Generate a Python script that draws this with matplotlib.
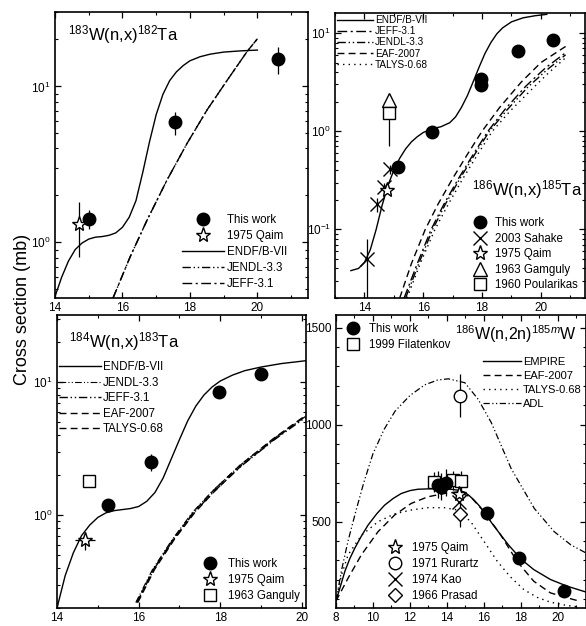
import matplotlib
matplotlib.use("Agg")
import matplotlib.pyplot as plt
from matplotlib.ticker import MultipleLocator, LogLocator, NullFormatter
from matplotlib.lines import Line2D

plt.rcParams['font.family'] = ['Liberation Sans', 'DejaVu Sans']
plt.rcParams['mathtext.fontset'] = 'custom'
plt.rcParams['mathtext.rm'] = 'Liberation Sans'
plt.rcParams['mathtext.it'] = 'Liberation Sans:italic'
plt.rcParams['mathtext.bf'] = 'Liberation Sans:bold'

# ---------------- Panel 1: 183W(n,x)182Ta ----------------
p1_work_x = [15.0, 17.55, 20.6]
p1_work_y = [1.41, 5.9, 15.0]
p1_work_err = [0.2, 1.0, 3.0]
p1_qaim_x = [14.72]
p1_qaim_y = [1.31]
p1_qaim_err = [0.5]
p1_endf_x = [14.0, 14.2, 14.4, 14.6, 14.8, 15.0, 15.2, 15.4, 15.6, 15.8, 16.0, 16.2, 16.4, 16.6, 16.8, 17.0,
             17.2, 17.4, 17.6, 17.8, 18.0, 18.3, 18.6, 19.0, 19.5, 20.0]
p1_endf_y = [0.45, 0.6, 0.76, 0.9, 0.99, 1.05, 1.08, 1.09, 1.11, 1.15, 1.25, 1.45, 1.85, 2.8, 4.4, 6.6,
             8.9, 10.9, 12.4, 13.6, 14.6, 15.5, 16.1, 16.6, 16.9, 17.1]
p1_jendl_x = [15.72, 16.23, 16.73, 17.32, 17.92, 18.51, 19.11, 19.7, 20.0]
p1_jendl_y = [0.44, 0.81, 1.39, 2.51, 4.33, 7.08, 11.0, 16.8, 20.2]
p1_jeff_x = [15.72, 16.23, 16.73, 17.32, 17.92, 18.51, 19.11, 19.7, 20.0]
p1_jeff_y = [0.44, 0.81, 1.39, 2.51, 4.33, 7.08, 11.0, 16.8, 20.2]

# ---------------- Panel 2: 186W(n,x)185Ta ----------------
p2_work_x = [15.14, 16.29, 17.95, 17.98, 19.23, 20.4]
p2_work_y = [0.43, 0.99, 3.4, 2.95, 6.5, 8.5]
p2_sahake_x = [14.09, 14.43, 14.68, 14.88]
p2_sahake_y = [0.05, 0.18, 0.27, 0.41]
p2_sahake_err = [0.03, 0.03, 0.03, 0.04]
p2_qaim_x = [14.77]
p2_qaim_y = [0.25]
p2_gamguly_x = [14.84]
p2_gamguly_y = [2.1]
p2_poul_x = [14.84]
p2_poul_y = [1.54]
p2_poul_err = [0.84]
p2_endf_x = [13.54, 13.8, 14.0, 14.2, 14.4, 14.6, 14.8, 15.0, 15.2, 15.4, 15.6, 15.8, 16.0, 16.3, 16.6, 16.9,
             17.1, 17.3, 17.5, 17.7, 17.9, 18.1, 18.3, 18.5, 18.7, 19.0, 19.4, 19.8, 20.2]
p2_endf_y = [0.038, 0.04, 0.046, 0.062, 0.1, 0.175, 0.28, 0.4, 0.53, 0.66, 0.78, 0.88, 0.97, 1.06, 1.11, 1.22,
             1.4, 1.75, 2.3, 3.2, 4.5, 6.2, 8.0, 9.8, 11.3, 13.0, 14.3, 15.0, 15.5]
p2_eaf_x = [15.2, 15.6, 16.07, 16.5, 17.0, 17.5, 18.0, 18.6, 19.33, 20.0, 20.84]
p2_eaf_y = [0.02, 0.045, 0.1, 0.18, 0.33, 0.58, 1.0, 1.75, 3.16, 5.0, 7.3]
p2_jeff_x = [15.35, 15.8, 16.27, 16.7, 17.2, 17.7, 18.2, 18.8, 19.5, 20.15, 20.84]
p2_jeff_y = [0.02, 0.045, 0.1, 0.18, 0.33, 0.58, 1.0, 1.7, 2.9, 4.4, 6.3]
p2_jendl_x = [15.4, 15.85, 16.32, 16.75, 17.25, 17.75, 18.25, 18.85, 19.55, 20.2, 20.84]
p2_jendl_y = [0.02, 0.045, 0.1, 0.18, 0.33, 0.58, 1.0, 1.65, 2.8, 4.2, 6.0]
p2_talys_x = [15.45, 15.9, 16.4, 16.85, 17.35, 17.85, 18.35, 18.95, 19.65, 20.25, 20.84]
p2_talys_y = [0.02, 0.045, 0.1, 0.18, 0.33, 0.58, 1.0, 1.6, 2.6, 3.9, 5.6]

# ---------------- Panel 3: 184W(n,x)183Ta ----------------
p3_work_x = [15.24, 16.3, 17.96, 19.0]
p3_work_y = [1.19, 2.51, 8.4, 11.6]
p3_work_err = [0.1, 0.35, 0.6, 0.8]
p3_qaim_x = [14.69]
p3_qaim_y = [0.65]
p3_qaim_err = [0.1]
p3_qaim_xerr = [0.25]
p3_ganguly_x = [14.79]
p3_ganguly_y = [1.81]
p3_endf_x = [14.0, 14.2, 14.4, 14.6, 14.8, 15.0, 15.2, 15.4, 15.6, 15.8, 16.0, 16.2, 16.4, 16.6, 16.8, 17.0,
             17.2, 17.4, 17.6, 17.8, 18.0, 18.3, 18.6, 19.0, 19.5, 20.1]
p3_endf_y = [0.2, 0.35, 0.52, 0.7, 0.84, 0.96, 1.04, 1.08, 1.1, 1.12, 1.16, 1.27, 1.48, 1.9, 2.65, 3.7,
             5.1, 6.6, 8.0, 9.2, 10.2, 11.3, 12.2, 13.0, 13.8, 14.5]
p3_jendl_x = [15.93, 16.34, 16.83, 17.32, 17.81, 18.47, 19.29, 20.1]
p3_jendl_y = [0.22, 0.39, 0.66, 1.05, 1.52, 2.35, 3.72, 5.56]
p3_jeff_x = [15.96, 16.37, 16.86, 17.35, 17.84, 18.5, 19.32, 20.1]
p3_jeff_y = [0.22, 0.39, 0.66, 1.04, 1.5, 2.32, 3.68, 5.45]
p3_eaf_x = [15.95, 16.36, 16.85, 17.34, 17.83, 18.49, 19.31, 20.1]
p3_eaf_y = [0.22, 0.39, 0.66, 1.05, 1.53, 2.38, 3.78, 5.65]
p3_talys_x = [15.98, 16.39, 16.88, 17.37, 17.86, 18.52, 19.34, 20.1]
p3_talys_y = [0.22, 0.39, 0.66, 1.04, 1.51, 2.36, 3.75, 5.6]

# ---------------- Panel 4: 186W(n,2n)185mW ----------------
p4_work_x = [13.5, 13.7, 13.95, 16.16, 17.89, 20.35]
p4_work_y = [690, 680, 700, 543, 312, 142]
p4_work_err = [70, 70, 70, 35, 25, 20]
p4_filat_x = [13.32, 14.31, 14.74]
p4_filat_y = [705, 713, 710]
p4_filat_err = [50, 50, 50]
p4_qaim_x = [14.67]
p4_qaim_y = [640]
p4_rurartz_x = [14.72]
p4_rurartz_y = [1148]
p4_rurartz_err = [111]
p4_kao_x = [14.67]
p4_kao_y = [600]
p4_prasad_x = [14.72]
p4_prasad_y = [539]
p4_prasad_err = [68]
p4_empire_x = [8.0, 8.25, 8.48, 8.75, 9.02, 9.4, 9.74, 10.2, 10.63, 11.1, 11.53, 12.0, 12.43, 13.32, 14.22, 14.6,
               14.93, 15.2, 15.47, 15.75, 16.01, 16.45, 16.91, 17.35, 17.8, 18.25, 18.7, 19.6, 20.49, 21.5]
p4_empire_y = [91, 170, 244, 310, 364, 430, 483, 540, 585, 620, 645, 660, 667, 670, 667, 662,
               653, 635, 611, 582, 551, 490, 432, 378, 330, 288, 253, 202, 168, 138]
p4_eaf_x = [8.0, 8.66, 9.38, 10.28, 11.17, 12.07, 12.97, 13.86, 14.58, 15.29, 16.01, 16.91, 17.8, 18.7, 19.6, 20.49, 21.03]
p4_eaf_y = [91, 210, 330, 449, 534, 594, 628, 645, 653, 628, 551, 432, 295, 193, 133, 108, 94]
p4_talys_x = [8.0, 8.3, 8.66, 9.38, 10.28, 11.17, 12.07, 12.97, 13.86, 14.58, 15.29, 16.01, 16.73, 17.44, 18.16, 18.88, 19.6, 20.5, 21.0]
p4_talys_y = [91, 227, 330, 430, 500, 540, 560, 572, 572, 560, 500, 398, 295, 215, 150, 110, 85, 68, 62]
p4_adl_x = [8.0, 8.3, 8.65, 9.06, 9.5, 10.0, 10.6, 11.2, 12.0, 12.8, 13.5, 14.08, 14.97, 15.69, 16.4, 17.48, 18.73, 19.8, 20.7, 21.5]
p4_adl_y = [91, 250, 400, 549, 700, 850, 975, 1070, 1150, 1205, 1230, 1236, 1216, 1131, 1011, 773, 568, 449, 381, 340]

W, H = 586, 626
fig = plt.figure(figsize=(W / 100, H / 100), dpi=100)

def ax_at(l, r, t, b):
    return fig.add_axes([l / W, 1 - b / H, (r - l) / W, (b - t) / H])

ax1 = ax_at(55, 308, 12, 298)
ax2 = ax_at(335, 585, 13, 298)
ax3 = ax_at(57, 306, 315, 608)
ax4 = ax_at(336, 585.5, 315, 608)

LS_JENDL = (0, (6, 2, 1, 2, 1, 2))
LS_JEFF = (0, (7, 2.5, 1.5, 2.5))
LS_EAF = (0, (5, 3))
LS_TALYS = (0, (1, 3))
LS_ADL = (0, (5, 2, 1, 2, 1, 2))
LW = 1.0
MS = 9
FS_TICK = 8.5
FS_LEG = 8.3
FS_TITLE = 12

def style(ax):
    ax.tick_params(which='both', direction='in', top=True, right=True, labelsize=FS_TICK, pad=3)
    ax.tick_params(which='major', length=4, width=0.9)
    ax.tick_params(which='minor', length=2, width=0.8)
    for s in ax.spines.values():
        s.set_linewidth(1.2)

def logstyle(ax):
    ax.set_yscale('log')
    ax.yaxis.set_major_locator(LogLocator(base=10))
    ax.yaxis.set_minor_locator(LogLocator(base=10, subs=range(2, 10)))
    ax.yaxis.set_minor_formatter(NullFormatter())

def errbar(ax, x, y, yerr, xerr=None):
    ax.errorbar(x, y, yerr=yerr, xerr=xerr, fmt='none', ecolor='black', elinewidth=0.9, capsize=0, zorder=2)

def work(ax, x, y):
    return ax.plot(x, y, 'o', color='black', ms=MS, zorder=4, label='This work')[0]

# ---------- Panel 1 ----------
logstyle(ax1)
ax1.set_xlim(14, 21.5)
ax1.set_ylim(0.44, 30)
ax1.plot(p1_endf_x, p1_endf_y, '-', color='black', lw=LW)
ax1.plot(p1_jendl_x, p1_jendl_y, color='black', lw=LW, ls=LS_JENDL)
ax1.plot(p1_jeff_x, p1_jeff_y, color='black', lw=LW, ls=LS_JEFF)
errbar(ax1, p1_work_x, p1_work_y, p1_work_err)
errbar(ax1, p1_qaim_x, p1_qaim_y, p1_qaim_err, [0.12])
work(ax1, p1_work_x, p1_work_y)
ax1.plot(p1_qaim_x, p1_qaim_y, '*', mfc='white', mec='black', ms=11, mew=1.0, zorder=5)
h1 = [Line2D([], [], marker='o', color='black', ls='none', ms=MS),
      Line2D([], [], marker='*', mfc='white', mec='black', ls='none', ms=11),
      Line2D([], [], color='black', lw=LW),
      Line2D([], [], color='black', lw=LW, ls=LS_JENDL),
      Line2D([], [], color='black', lw=LW, ls=LS_JEFF)]
ax1.legend(h1, ['This work', '1975 Qaim', 'ENDF/B-VII', 'JENDL-3.3', 'JEFF-3.1'], loc='lower right',
           bbox_to_anchor=(0.95, 0.0), frameon=False, fontsize=FS_LEG, handlelength=3.6,
           handletextpad=0.3, labelspacing=0.35, borderaxespad=0.3)
ax1.text(0.05, 0.90, r'$^{183}$W(n,x)$^{182}$Ta', transform=ax1.transAxes, fontsize=FS_TITLE)
ax1.xaxis.set_major_locator(MultipleLocator(2))
ax1.xaxis.set_minor_locator(MultipleLocator(1))
style(ax1)

# ---------- Panel 2 ----------
logstyle(ax2)
ax2.set_xlim(13, 21.5)
ax2.set_ylim(0.02, 16)
ax2.plot(p2_endf_x, p2_endf_y, '-', color='black', lw=LW)
ax2.plot(p2_jeff_x, p2_jeff_y, color='black', lw=LW, ls=LS_JEFF)
ax2.plot(p2_jendl_x, p2_jendl_y, color='black', lw=LW, ls=LS_JENDL)
ax2.plot(p2_eaf_x, p2_eaf_y, color='black', lw=LW, ls=LS_EAF)
ax2.plot(p2_talys_x, p2_talys_y, color='black', lw=LW, ls=LS_TALYS)
errbar(ax2, p2_sahake_x, p2_sahake_y, p2_sahake_err)
errbar(ax2, p2_poul_x, p2_poul_y, p2_poul_err)
work(ax2, p2_work_x, p2_work_y)
ax2.plot(p2_sahake_x, p2_sahake_y, 'x', color='black', ms=10, mew=1.0, zorder=5)
ax2.plot(p2_qaim_x, p2_qaim_y, '*', mfc='white', mec='black', ms=11, mew=1.0, zorder=5)
ax2.plot(p2_gamguly_x, p2_gamguly_y, '^', mfc='white', mec='black', ms=10, mew=1.0, zorder=5)
ax2.plot(p2_poul_x, p2_poul_y, 's', mfc='white', mec='black', ms=8, mew=1.0, zorder=6)
h2a = [Line2D([], [], color='black', lw=LW),
       Line2D([], [], color='black', lw=LW, ls=LS_JEFF),
       Line2D([], [], color='black', lw=LW, ls=LS_JENDL),
       Line2D([], [], color='black', lw=LW, ls=LS_EAF),
       Line2D([], [], color='black', lw=LW, ls=LS_TALYS)]
leg2a = ax2.legend(h2a, ['ENDF/B-VII', 'JEFF-3.1', 'JENDL-3.3', 'EAF-2007', 'TALYS-0.68'], loc='upper left',
                   frameon=False, fontsize=7.2, handlelength=3.6, handletextpad=0.2, labelspacing=0.12,
                   borderaxespad=0.1, borderpad=0.1)
ax2.add_artist(leg2a)
h2b = [Line2D([], [], marker='o', color='black', ls='none', ms=MS),
       Line2D([], [], marker='x', color='black', ls='none', ms=10),
       Line2D([], [], marker='*', mfc='white', mec='black', ls='none', ms=11),
       Line2D([], [], marker='^', mfc='white', mec='black', ls='none', ms=10),
       Line2D([], [], marker='s', mfc='white', mec='black', ls='none', ms=8)]
ax2.legend(h2b, ['This work', '2003 Sahake', '1975 Qaim', '1963 Gamguly', '1960 Poularikas'], loc='lower right',
           frameon=False, fontsize=FS_LEG, handlelength=1.5, handletextpad=0.6, labelspacing=0.3,
           borderaxespad=0.2)
ax2.text(0.55, 0.36, r'$^{186}$W(n,x)$^{185}$Ta', transform=ax2.transAxes, fontsize=FS_TITLE)
ax2.xaxis.set_major_locator(MultipleLocator(2))
ax2.xaxis.set_minor_locator(MultipleLocator(1))
style(ax2)

# ---------- Panel 3 ----------
logstyle(ax3)
ax3.set_xlim(14, 20.1)
ax3.set_ylim(0.2, 32)
ax3.plot(p3_endf_x, p3_endf_y, '-', color='black', lw=LW)
ax3.plot(p3_jendl_x, p3_jendl_y, color='black', lw=0.8, ls=LS_JENDL)
ax3.plot(p3_jeff_x, p3_jeff_y, color='black', lw=LW, ls=LS_JENDL)
ax3.plot(p3_eaf_x, p3_eaf_y, color='black', lw=LW, ls=LS_EAF)
ax3.plot(p3_talys_x, p3_talys_y, color='black', lw=LW, ls=LS_EAF)
errbar(ax3, p3_work_x, p3_work_y, p3_work_err)
errbar(ax3, p3_qaim_x, p3_qaim_y, p3_qaim_err, p3_qaim_xerr)
work(ax3, p3_work_x, p3_work_y)
ax3.plot(p3_qaim_x, p3_qaim_y, '*', mfc='white', mec='black', ms=11, mew=1.0, zorder=5)
ax3.plot(p3_ganguly_x, p3_ganguly_y, 's', mfc='white', mec='black', ms=8, mew=1.0, zorder=5)
h3a = [Line2D([], [], color='black', lw=LW),
       Line2D([], [], color='black', lw=0.8, ls=LS_JENDL),
       Line2D([], [], color='black', lw=LW, ls=LS_JENDL),
       Line2D([], [], color='black', lw=LW, ls=LS_EAF),
       Line2D([], [], color='black', lw=LW, ls=LS_EAF)]
leg3a = ax3.legend(h3a, ['ENDF/B-VII', 'JENDL-3.3', 'JEFF-3.1', 'EAF-2007', 'TALYS-0.68'], loc='upper left',
                   bbox_to_anchor=(0.0, 0.85), frameon=False, fontsize=FS_LEG, handlelength=3.6,
                   handletextpad=0.2, labelspacing=0.3, borderaxespad=0.1, borderpad=0.1)
ax3.add_artist(leg3a)
h3b = [Line2D([], [], marker='o', color='black', ls='none', ms=MS),
       Line2D([], [], marker='*', mfc='white', mec='black', ls='none', ms=11),
       Line2D([], [], marker='s', mfc='white', mec='black', ls='none', ms=8)]
ax3.legend(h3b, ['This work', '1975 Qaim', '1963 Ganguly'], loc='lower right',
           frameon=False, fontsize=FS_LEG, handlelength=1.5, handletextpad=0.8, labelspacing=0.35,
           borderaxespad=0.1)
ax3.text(0.05, 0.89, r'$^{184}$W(n,x)$^{183}$Ta', transform=ax3.transAxes, fontsize=FS_TITLE)
ax3.xaxis.set_major_locator(MultipleLocator(2))
ax3.xaxis.set_minor_locator(MultipleLocator(1))
style(ax3)

# ---------- Panel 4 ----------
ax4.set_xlim(8, 21.5)
ax4.set_ylim(55, 1565)
ax4.plot(p4_empire_x, p4_empire_y, '-', color='black', lw=LW)
ax4.plot(p4_eaf_x, p4_eaf_y, color='black', lw=LW, ls=LS_EAF)
ax4.plot(p4_talys_x, p4_talys_y, color='black', lw=LW, ls=LS_TALYS)
ax4.plot(p4_adl_x, p4_adl_y, color='black', lw=0.9, ls=LS_ADL)
errbar(ax4, p4_work_x, p4_work_y, p4_work_err)
errbar(ax4, p4_filat_x, p4_filat_y, p4_filat_err)
errbar(ax4, p4_rurartz_x, p4_rurartz_y, p4_rurartz_err)
errbar(ax4, p4_prasad_x, p4_prasad_y, p4_prasad_err)
ax4.plot(p4_filat_x, p4_filat_y, 's', mfc='white', mec='black', ms=8, mew=1.0, zorder=3)
work(ax4, p4_work_x, p4_work_y)
ax4.plot(p4_qaim_x, p4_qaim_y, '*', mfc='white', mec='black', ms=11, mew=1.0, zorder=5)
ax4.plot(p4_rurartz_x, p4_rurartz_y, 'o', mfc='white', mec='black', ms=9, mew=1.0, zorder=5)
ax4.plot(p4_kao_x, p4_kao_y, 'x', color='black', ms=10, mew=1.0, zorder=5)
ax4.plot(p4_prasad_x, p4_prasad_y, 'D', mfc='white', mec='black', ms=7.5, mew=1.0, zorder=5)
h4a = [Line2D([], [], marker='o', color='black', ls='none', ms=MS),
       Line2D([], [], marker='s', mfc='white', mec='black', ls='none', ms=8)]
leg4a = ax4.legend(h4a, ['This work', '1999 Filatenkov'], loc='upper left', frameon=False,
                   fontsize=FS_LEG, handlelength=1.5, handletextpad=0.7, labelspacing=0.35,
                   borderaxespad=0.3)
ax4.add_artist(leg4a)
h4b = [Line2D([], [], color='black', lw=LW),
       Line2D([], [], color='black', lw=LW, ls=LS_EAF),
       Line2D([], [], color='black', lw=LW, ls=LS_TALYS),
       Line2D([], [], color='black', lw=0.9, ls=LS_ADL)]
leg4b = ax4.legend(h4b, ['EMPIRE', 'EAF-2007', 'TALYS-0.68', 'ADL'], loc='upper left',
                   bbox_to_anchor=(0.585, 0.86), frameon=False, fontsize=8.0, handlelength=3.4,
                   handletextpad=0.2, labelspacing=0.35, borderaxespad=0.0, borderpad=0.1)
ax4.add_artist(leg4b)
h4c = [Line2D([], [], marker='*', mfc='white', mec='black', ls='none', ms=11),
       Line2D([], [], marker='o', mfc='white', mec='black', ls='none', ms=9),
       Line2D([], [], marker='x', color='black', ls='none', ms=10),
       Line2D([], [], marker='D', mfc='white', mec='black', ls='none', ms=7.5)]
ax4.legend(h4c, ['1975 Qaim', '1971 Rurartz', '1974 Kao', '1966 Prasad'], loc='lower left',
           bbox_to_anchor=(0.18, 0.0), frameon=False, fontsize=FS_LEG, handlelength=1.5,
           handletextpad=0.7, labelspacing=0.35, borderaxespad=0.1)
ax4.text(0.475, 0.915, r'$^{186}$W(n,2n)$^{185m}$W', transform=ax4.transAxes, fontsize=11.5)
ax4.xaxis.set_major_locator(MultipleLocator(2))
ax4.xaxis.set_minor_locator(MultipleLocator(1))
ax4.yaxis.set_major_locator(MultipleLocator(500))
ax4.yaxis.set_minor_locator(MultipleLocator(100))
style(ax4)

fig.text(0.038, 0.505, 'Cross section (mb)', rotation=90, fontsize=13, ha='center', va='center')

fig.savefig('out.png', dpi=100)
